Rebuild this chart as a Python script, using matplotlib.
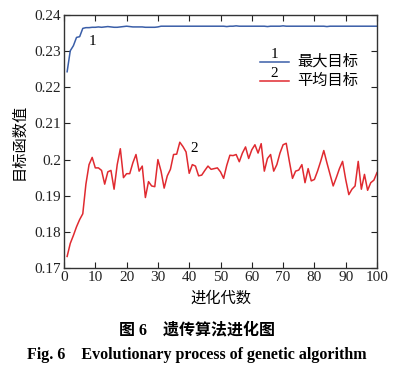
import matplotlib
matplotlib.use("Agg")
import matplotlib.pyplot as plt
from matplotlib.ticker import FuncFormatter
import numpy as np

plt.rcParams['font.family'] = ['Liberation Serif', 'Noto Sans CJK SC']
plt.rcParams['axes.unicode_minus'] = False

generations = list(range(1, 101))
max_obj = [0.2243, 0.2301, 0.2315, 0.2338, 0.2340, 0.2363, 0.2365, 0.2365, 0.2366, 0.2366,
           0.2367, 0.2366, 0.2367, 0.2368, 0.2367, 0.2366, 0.2366, 0.2367, 0.2368, 0.2369,
           0.2368, 0.2367, 0.2367, 0.2367, 0.2367, 0.2366, 0.2366, 0.2366, 0.2366, 0.2367,
           0.2369, 0.2369, 0.2369, 0.2369, 0.2369, 0.2369, 0.2369, 0.2369, 0.2369, 0.2369,
           0.2369, 0.2369, 0.2369, 0.2369, 0.2369, 0.2369, 0.2369, 0.2369, 0.2369, 0.2369,
           0.2369, 0.2368, 0.2369, 0.2369, 0.2370, 0.2369, 0.2369, 0.2369, 0.2369, 0.2369,
           0.2369, 0.2369, 0.2369, 0.2369, 0.2368, 0.2369, 0.2369, 0.2369, 0.2369, 0.2370,
           0.2369, 0.2369, 0.2369, 0.2369, 0.2369, 0.2369, 0.2369, 0.2369, 0.2369, 0.2369,
           0.2369, 0.2369, 0.2369, 0.2368, 0.2369, 0.2369, 0.2369, 0.2369, 0.2369, 0.2369,
           0.2369, 0.2369, 0.2369, 0.2369, 0.2369, 0.2369, 0.2369, 0.2369, 0.2369, 0.2369]
avg_obj = [0.1732, 0.1768, 0.1790, 0.1814, 0.1834, 0.1850, 0.1932, 0.1986, 0.2006, 0.1977,
           0.1977, 0.1970, 0.1932, 0.1966, 0.1970, 0.1918, 0.1986, 0.2030, 0.1950, 0.1961,
           0.1961, 0.1991, 0.2014, 0.1968, 0.1982, 0.1895, 0.1939, 0.1927, 0.1925, 0.2000,
           0.1968, 0.1921, 0.1955, 0.1973, 0.2014, 0.2015, 0.2048, 0.2036, 0.2021, 0.1962,
           0.1986, 0.1982, 0.1955, 0.1957, 0.1970, 0.1982, 0.1973, 0.1975, 0.1977, 0.1966,
           0.1948, 0.1984, 0.2012, 0.2011, 0.2014, 0.1994, 0.2018, 0.2035, 0.2003, 0.2027,
           0.2041, 0.2018, 0.2044, 0.1968, 0.2003, 0.2014, 0.1968, 0.1986, 0.2018, 0.2041,
           0.2045, 0.1995, 0.1948, 0.1968, 0.1971, 0.1986, 0.1936, 0.1975, 0.1941, 0.1945,
           0.1968, 0.1995, 0.2025, 0.1991, 0.1959, 0.1927, 0.1950, 0.1975, 0.1995, 0.1945,
           0.1903, 0.1918, 0.1927, 0.1995, 0.1918, 0.1959, 0.1915, 0.1936, 0.1943, 0.1964]

x_ticks = [0, 10, 20, 30, 40, 50, 60, 70, 80, 90, 100]
y_ticks = [0.17, 0.18, 0.19, 0.20, 0.21, 0.22, 0.23, 0.24]
labels = ['最大目标', '平均目标']
nums = ['1', '2']

fig = plt.figure(figsize=(3.94, 3.70), dpi=100)
ax = fig.add_axes([64/394, 1 - 268/370, (377-64)/394, (268-15)/370])

blue = '#3a5ea8'
red = '#e02a30'
ax.plot(generations, max_obj, color=blue, lw=1.1)
ax.plot(generations, avg_obj, color=red, lw=1.1)

ax.set_xlim(0, 100)
ax.set_ylim(0.17, 0.24)
ax.set_xticks(x_ticks)
ax.set_yticks(y_ticks)
ax.yaxis.set_major_formatter(FuncFormatter(lambda v, p: ('%g' % round(v, 3))))
ax.tick_params(direction='in', top=True, right=True, labelsize=11, length=4, width=0.8,
               colors='#222222', pad=2)
for s in ax.spines.values():
    s.set_linewidth(1.0)
    s.set_color('#333333')

ax.set_xlabel('进化代数', fontsize=11, labelpad=5)
ax.set_ylabel('目标函数值', fontsize=11, labelpad=6)

ax.text(9, 0.2328, '1', fontsize=11, ha='center', va='center')
ax.text(41.5, 0.2032, '2', fontsize=11, ha='center', va='center')

# legend built from lines
for i, (lab, num, col) in enumerate(zip(labels, nums, [blue, red])):
    yv = 0.2270 - i * 0.0052
    ax.plot([62.5, 72.0], [yv, yv], color=col, lw=1.1)
    ax.text(67.2, yv + 0.0002, num, fontsize=11, ha='center', va='bottom')
    ax.text(74.5, yv + 0.0001, lab, fontsize=11, ha='left', va='center')

fig.text(0.5, 1 - 330/370, '图 6　遗传算法进化图', fontsize=11.5, fontweight='bold',
         ha='center', va='center')
fig.text(0.5, 1 - 355/370, 'Fig. 6　Evolutionary process of genetic algorithm', fontsize=11.5,
         fontweight='bold', ha='center', va='center')

fig.savefig('out.png', dpi=100)
